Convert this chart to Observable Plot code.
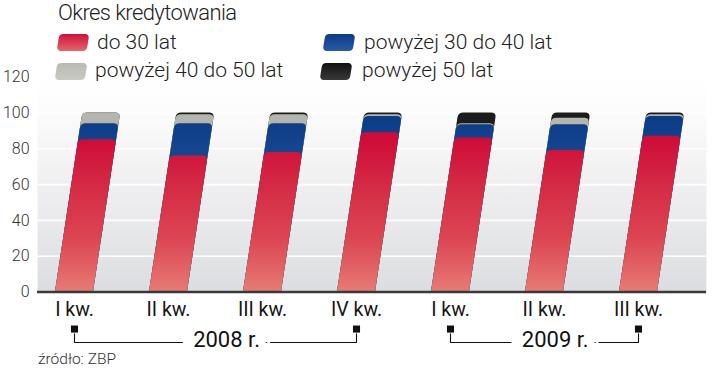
<!DOCTYPE html>
<html>
<head>
<meta charset="utf-8">
<script src="https://cdn.jsdelivr.net/npm/d3@7"></script>
<script src="https://cdn.jsdelivr.net/npm/@observablehq/plot@0.6"></script>
<style>
  html, body { margin: 0; padding: 0; background: #fff; }
  #wrap { position: relative; width: 720px; height: 369px; overflow: hidden; font-family: Roboto, sans-serif; color: #222; }
  #chart { position: absolute; left: 0; top: 0; }
  .t { position: absolute; white-space: nowrap; font-weight: 300; line-height: 21px; font-size: 21px; }
  .sw { position: absolute; width: 30px; height: 17px; border-radius: 4px; transform: skewX(-9deg); }
  #title { position: absolute; left: 58px; top: 2px; font-size: 22px; line-height: 22px; font-weight: 300; letter-spacing: -0.6px; white-space: nowrap; }
  #src { position: absolute; left: 38px; top: 351px; font-size: 15.5px; line-height: 16px; font-weight: 300; color: #333; white-space: nowrap; }
</style>
</head>
<body>
<div id="wrap">
  <div id="chart"></div>
  <div id="legend"></div>
  <div id="src"></div>
</div>
<script>
// ---- data ----
const quarters = ["I kw.", "II kw.", "III kw.", "IV kw.", "I kw.", "II kw.", "III kw."];
const years = ["2008", "2008", "2008", "2008", "2009", "2009", "2009"];
const do30 = [85, 76, 78, 89, 86, 79, 87];
const p30to40 = [9, 18, 16, 9, 7.5, 14.5, 11];
const p40to50 = [6, 5, 5, 1, 0.5, 3.5, 1];
const p50 = [0, 1, 1, 1, 6, 3, 1];
const seriesNames = ["do 30 lat", "powyżej 30 do 40 lat", "powyżej 40 do 50 lat", "powyżej 50 lat"];
const yTicks = [0, 20, 40, 60, 80, 100, 120];
const titleText = "Okres kredytowania";
const sourceText = "źródło: ZBP";

// ---- derived table ----
const keys = quarters.map((q, i) => years[i] + " " + q);
const series = [do30, p30to40, p40to50, p50];
const rows = keys.map((k, i) => {
  let c = 0;
  const cum = series.map(s => (c += s[i]));
  return {key: k, c1: cum[0], c2: cum[1], c3: cum[2], c4: cum[3]};
});
const yearNames = Array.from(new Set(years));

// ---- styles ----
const fills = ["url(#gRed)", "url(#gBlue)", "#b4b6ad", "#1c1c1c"];
const legendBg = [
  "linear-gradient(#cf1239, #e4676b)",
  "linear-gradient(#0d3b86, #2a5aa6)",
  "linear-gradient(#b9bbb2, #c9cbc3)",
  "linear-gradient(#111, #3a3a3a)"
];
const xRange = [-4.26, 715.5];
const skew = 0.152;

// annotation vertical placements (chart units below the baseline)
const SQ_Y = -20.7, BR_TOP = -23.3, BR_LINE = -28.2, TXT_Y = -26.6;

const xs = Plot.scale({x: {type: "band", domain: keys, range: xRange, padding: 0.6}});
const center = k => xs.apply(k) + xs.bandwidth / 2;
const groups = yearNames.map(yr => {
  const ks = keys.filter((k, i) => years[i] === yr);
  return {label: yr + " r.", first: ks[0], last: ks[ks.length - 1]};
});
const brPts = groups.flatMap(g => [
  {x: g.first, y: BR_TOP, g: g.label},
  {x: g.first, y: BR_LINE, g: g.label},
  {x: g.last, y: BR_LINE, g: g.label},
  {x: g.last, y: BR_TOP, g: g.label}
]);
const ends = groups.flatMap(g => [{x: g.first}, {x: g.last}]);

const barMarks = [4, 3, 2, 1].map(n =>
  Plot.barY(rows, {x: "key", y1: () => 0, y2: "c" + n, fill: fills[n - 1]})
);

const chart = Plot.plot({
  width: 720,
  height: 369,
  marginTop: 76.7,
  marginBottom: 77.5,
  marginLeft: 37,
  marginRight: 14,
  style: {fontFamily: "Roboto, sans-serif", background: "transparent", overflow: "visible"},
  x: {type: "band", domain: keys, range: xRange, padding: 0.6},
  y: {domain: [0, 120]},
  marks: [
    Plot.frame({fill: "url(#gBg)", stroke: "none"}),
    Plot.ruleY(yTicks.filter(t => t > 0 && t < 120), {stroke: "#ffffff", strokeWidth: 1.6}),
    ...barMarks,
    Plot.ruleY([0], {stroke: "#3a3838", strokeWidth: 2.5}),
    Plot.axisY({ticks: yTicks, tickSize: 0, tickPadding: 8, fontSize: 16, fontWeight: 300, fill: "#333", label: null}),
    Plot.axisX({tickSize: 0, tickPadding: 10, fontSize: 19.5, fill: "#151515", label: null,
      tickFormat: k => quarters[keys.indexOf(k)]}),
    Plot.line(brPts, {x: "x", y: "y", z: "g", stroke: "#111", strokeWidth: 1.1}),
    Plot.dot(ends, {x: "x", y: () => SQ_Y, symbol: "square", r: 4, fill: "#111", stroke: "none"}),
    ...groups.map(g => Plot.text([g], {
      x: "first", y: () => TXT_Y, text: "label",
      dx: (center(g.last) - center(g.first)) / 2 + 10,
      fontSize: 22, fill: "#111", stroke: "#fff", strokeWidth: 24,
      paintOrder: "stroke", strokeLinejoin: "round", textAnchor: "middle", lineAnchor: "middle"
    }))
  ]
});

document.getElementById("chart").appendChild(chart);

// ---- gradients ----
const svg = d3.select(chart);
const yS = chart.scale("y");
const y0 = yS.apply(0);
const defs = svg.insert("defs", ":first-child");
function grad(id, yA, yB, stops) {
  const g = defs.append("linearGradient").attr("id", id).attr("gradientUnits", "userSpaceOnUse")
    .attr("x1", 0).attr("x2", 0).attr("y1", yA).attr("y2", yB);
  stops.forEach(([o, c]) => g.append("stop").attr("offset", o).attr("stop-color", c));
}
grad("gBg", yS.apply(120), y0, [[0, "#ffffff"], [0.15, "#fcfcfc"], [1, "#dcdde0"]]);
grad("gRed", y0, yS.apply(85), [[0, "#e77b74"], [0.35, "#dc4552"], [0.7, "#d42a45"], [1, "#cf0c38"]]);
grad("gBlue", yS.apply(80), yS.apply(100), [[0, "#14458f"], [1, "#0b3a85"]]);

// ---- slant bars (parallelograms with rounded tops) ----
svg.selectAll('g[aria-label="bar"] rect').each(function () {
  const r = d3.select(this);
  const x = +r.attr("x"), y = +r.attr("y"), w = +r.attr("width"), h = +r.attr("height");
  if (!(h > 0)) { r.remove(); return; }
  const yb = y + h, yt = y;
  const sx = (px, py) => px + skew * (y0 - py);
  const rad = Math.min(5, h, w / 2);
  const p = d3.path();
  p.moveTo(sx(x, yb), yb);
  p.lineTo(sx(x, yt + rad), yt + rad);
  p.quadraticCurveTo(sx(x, yt), yt, sx(x, yt) + rad, yt);
  p.lineTo(sx(x + w, yt) - rad, yt);
  p.quadraticCurveTo(sx(x + w, yt), yt, sx(x + w, yt + rad), yt + rad);
  p.lineTo(sx(x + w, yb), yb);
  p.closePath();
  const parent = this.parentNode;
  const path = document.createElementNS("http://www.w3.org/2000/svg", "path");
  path.setAttribute("d", p.toString());
  const f = r.attr("fill"); if (f) path.setAttribute("fill", f);
  parent.replaceChild(path, this);
});

// ---- title, legend, source ----
const leg = d3.select("#legend");
leg.append("div").attr("id", "title").text(titleText);
const legPos = [
  {sx: 58, sy: 34, tx: 97, ty: 32},
  {sx: 324, sy: 34, tx: 364, ty: 32},
  {sx: 56, sy: 63, tx: 95, ty: 60},
  {sx: 321, sy: 63, tx: 362, ty: 60}
];
seriesNames.forEach((name, i) => {
  const p = legPos[i];
  leg.append("div").attr("class", "sw").style("left", p.sx + "px").style("top", p.sy + "px").style("background", legendBg[i]);
  leg.append("div").attr("class", "t").style("left", p.tx + "px").style("top", p.ty + "px").text(name);
});
document.getElementById("src").textContent = sourceText;
</script>
</body>
</html>
